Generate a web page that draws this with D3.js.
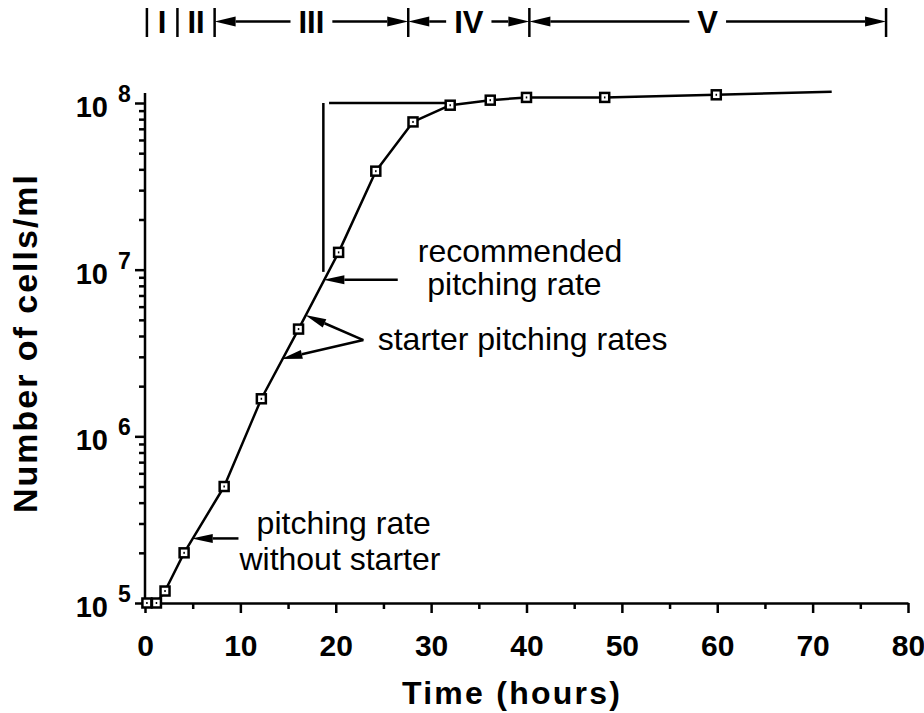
<!DOCTYPE html>
<html>
<head>
  <script src="https://d3js.org/d3.v7.min.js"></script>
  <style>
    body { margin: 0; background: #fff; }
    text { font-family: "Liberation Sans", Arial, sans-serif; fill: #000; }
  </style>
</head>
<body>
<svg width="924" height="713">
  <g id="header"/>
  <g id="axes"/>
  <g id="notes"/>
  <g id="curve"/>
  <g id="points"/>
</svg>
<script>
  // yeast growth curve
  let hours = [0.2, 1.2, 2.1, 4.1, 8.3, 12.2, 16.1, 20.3, 24.2, 28.1, 32.0, 36.2, 40.0, 48.2, 59.9, 72.0];
  let cells = [1e5, 1e5, 1.18e5, 2e5, 5e5, 1.68e6, 4.4e6, 1.27e7, 3.9e7, 7.7e7, 9.7e7, 1.04e8, 1.08e8, 1.08e8, 1.12e8, 1.17e8];

  // growth phases across the top (edges in hours)
  let phase_names = ["I", "II", "III", "IV", "V"];
  let phase_edges = [0.2, 3.4, 7.3, 27.6, 40.3, 77.7];

  let x_ticks = [0, 10, 20, 30, 40, 50, 60, 70, 80];
  let x_minor = [5, 15, 25, 35, 45, 55, 65, 75];
  let y_ticks = [1e5, 1e6, 1e7, 1e8];
  let y_top = 1.15e8;

  // annotations, each line anchored in data units [hours, cells/ml]
  let note_lines = [
    ["recommended", "pitching rate"],
    ["starter pitching rates"],
    ["pitching rate", "without starter"]
  ];
  let note_at = [
    [[28.6, 1.11e7], [29.6, 7.05e6]],
    [[24.4, 3.3e6]],
    [[11.7, 2.58e5], [9.9, 1.58e5]]
  ];
  let note_arrows = [
    [[26.5, 8.7e6], [18.7, 8.7e6]],
    [[22.9, 3.78e6], [16.8, 5.35e6]],
    [[22.9, 3.78e6], [14.3, 2.91e6]],
    [[9.8, 2.44e5], [4.9, 2.44e5]]
  ];
  let bracket = [
    [[18.7, 9.7e6], [18.7, 1e8]],
    [[19.3, 1e8], [31.5, 1e8]]
  ];

  let x = d3.scaleLinear().domain([0, 80]).range([145, 908]);
  let y = d3.scaleLog().domain([1e5, 1e8]).range([603, 103]);

  function arrow(g, x1, y1, x2, y2, len, half) {
    let dx = x2 - x1, dy = y2 - y1, L = Math.hypot(dx, dy);
    let ux = dx / L, uy = dy / L;
    let bx = x2 - ux * len, by = y2 - uy * len;
    g.append("line")
      .attr("x1", x1).attr("y1", y1).attr("x2", bx).attr("y2", by)
      .attr("stroke", "#000").attr("stroke-width", 2.5);
    g.append("path")
      .attr("d", `M${x2},${y2}L${bx - uy * half},${by + ux * half}L${bx + uy * half},${by - ux * half}Z`)
      .attr("fill", "#000");
  }

  function header() {
    let g = d3.select("#header"), hy = 21.5;
    g.selectAll("line.sep")
      .data(phase_edges).enter()
      .append("line")
      .attr("class", "sep")
      .attr("x1", d => x(d)).attr("x2", d => x(d))
      .attr("y1", 8).attr("y2", 37)
      .attr("stroke", "#000").attr("stroke-width", 2.5);

    phase_names.forEach((name, i) => {
      let a = x(phase_edges[i]), b = x(phase_edges[i + 1]), m = (a + b) / 2;
      let t = g.append("text")
        .attr("x", m).attr("y", 33)
        .attr("text-anchor", "middle")
        .attr("font-size", 31).attr("font-weight", "bold")
        .text(name);
      if (b - a > 100) {
        let w = t.node().getComputedTextLength();
        arrow(g, m - w / 2 - 8, hy, a, hy, 21, 5);
        arrow(g, m + w / 2 + 8, hy, b, hy, 21, 5);
      }
    });
  }

  function axes() {
    let g = d3.select("#axes");

    let xa = g.append("g").attr("transform", `translate(0, ${y(1e5)})`)
      .call(d3.axisBottom(x).tickValues(x_ticks).tickSize(10).tickSizeOuter(0)
        .tickPadding(22).tickFormat(d3.format("d")));
    let xm = g.append("g").attr("transform", `translate(0, ${y(1e5)})`)
      .call(d3.axisBottom(x).tickValues(x_minor).tickSize(6).tickFormat(""));
    xm.select(".domain").remove();

    let ya = g.append("g").attr("transform", `translate(${x(0)}, 0)`)
      .call(d3.axisLeft(y).tickValues(y_ticks).tickSize(10).tickFormat(""));
    ya.select(".domain").remove();
    let minor = [];
    [1e5, 1e6, 1e7].forEach(p => d3.range(2, 10).forEach(k => minor.push(k * p)));
    g.append("g").attr("transform", `translate(${x(0)}, 0)`)
      .call(d3.axisLeft(y).tickValues(minor).tickSize(6).tickFormat(""))
      .select(".domain").remove();

    g.append("line")
      .attr("x1", x(0)).attr("x2", x(0))
      .attr("y1", y(1e5)).attr("y2", y(y_top))
      .attr("stroke", "#000");

    g.selectAll("line, path").attr("stroke-width", 2.5).attr("stroke", "#000");

    xa.selectAll("text")
      .attr("font-size", 30).attr("font-weight", "bold")
      .attr("font-family", "Liberation Sans, Arial, sans-serif")
      .attr("fill", "#000");

    // 10 with superscript exponent
    g.selectAll("text.ylab")
      .data(y_ticks).enter()
      .append("text")
      .attr("class", "ylab")
      .attr("x", x(0) - 37).attr("y", d => y(d) + 14)
      .attr("text-anchor", "end")
      .attr("font-size", 29).attr("font-weight", "bold")
      .text("10");
    g.selectAll("text.yexp")
      .data(y_ticks).enter()
      .append("text")
      .attr("class", "yexp")
      .attr("x", x(0) - 27).attr("y", d => y(d) - 1)
      .attr("font-size", 23).attr("font-weight", "bold")
      .text(d => Math.round(Math.log10(d)));

    g.append("text")
      .attr("transform", `translate(37, 344) rotate(-90)`)
      .attr("text-anchor", "middle")
      .attr("font-size", 34).attr("font-weight", "bold")
      .attr("textLength", 338)
      .text("Number of cells/ml");

    g.append("text")
      .attr("x", 511).attr("y", 704)
      .attr("text-anchor", "middle")
      .attr("font-size", 32).attr("font-weight", "bold")
      .attr("textLength", 218)
      .text("Time (hours)");
  }

  function notes() {
    let g = d3.select("#notes");
    g.selectAll("line.bracket")
      .data(bracket).enter()
      .append("line")
      .attr("class", "bracket")
      .attr("x1", d => x(d[0][0])).attr("y1", d => y(d[0][1]))
      .attr("x2", d => x(d[1][0])).attr("y2", d => y(d[1][1]))
      .attr("stroke", "#000").attr("stroke-width", 2.5);

    note_arrows.forEach(([a, b]) => arrow(g, x(a[0]), y(a[1]), x(b[0]), y(b[1]), 21, 4.5));

    // one text per note, a tspan per line
    g.selectAll("text")
      .data(note_lines).enter()
      .append("text")
      .attr("font-size", 32)
      .each(function (lines, i) {
        d3.select(this).selectAll("tspan")
          .data(lines).enter()
          .append("tspan")
          .attr("x", (d, j) => x(note_at[i][j][0]))
          .attr("y", (d, j) => y(note_at[i][j][1]))
          .text(d => d);
      });
  }

  function curve() {
    let data = hours.map((h, i) => [h, cells[i]]);
    d3.select("#curve").append("path")
      .datum(data)
      .attr("d", d3.line().x(d => x(d[0])).y(d => y(d[1])))
      .attr("fill", "none").attr("stroke", "#000")
      .attr("stroke-width", 2.5).attr("stroke-linejoin", "round");

    // the last point (72 h) carries no marker
    let pts = d3.select("#points").selectAll("g")
      .data(data.slice(0, -1)).enter()
      .append("g")
      .attr("transform", d => `translate(${x(d[0])}, ${y(d[1])})`);
    pts.append("rect")
      .attr("x", -4.5).attr("y", -4.5).attr("width", 9).attr("height", 9)
      .attr("fill", "#fff").attr("stroke", "#000").attr("stroke-width", 2.5);
    pts.append("rect")
      .attr("x", -0.75).attr("y", -1).attr("width", 1.5).attr("height", 2)
      .attr("fill", "#000");
  }

  header();
  axes();
  notes();
  curve();
</script>
</body>
</html>
